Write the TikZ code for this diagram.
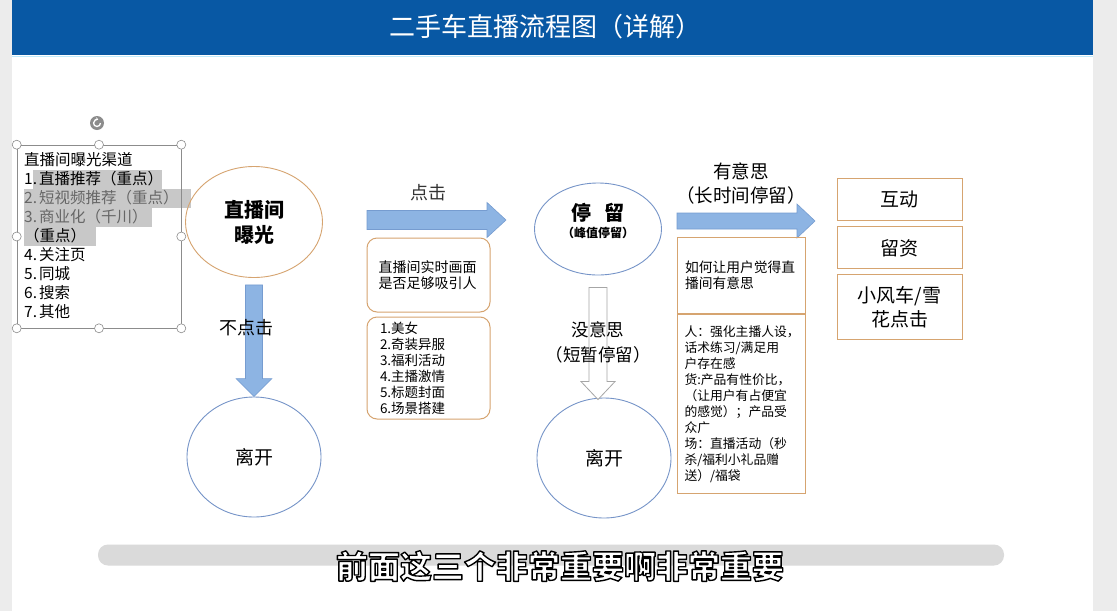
\documentclass[tikz,border=0pt]{standalone}
\usepackage{fontspec}
\setmainfont{Noto Sans CJK SC}
\usetikzlibrary{positioning, shapes.geometric, calc, arrows.meta}

\definecolor{hdrblue}{RGB}{8,88,164}
\definecolor{pagegray}{RGB}{236,236,236}
\definecolor{arrowblue}{RGB}{141,180,227}
\definecolor{arrowedge}{RGB}{118,156,208}
\definecolor{tanline}{RGB}{214,164,112}
\definecolor{ovalblue}{RGB}{118,148,200}
\definecolor{markgray}{RGB}{200,200,200}
\definecolor{bargray}{RGB}{218,218,218}

\begin{document}
\begin{tikzpicture}[x=1pt, y=-1pt]
		\tikzset{
			oval/.style={draw=ovalblue, ellipse, line width=0.9pt, align=center, inner sep=0pt},
			roundbox/.style={draw=tanline, rounded corners=10pt, line width=1pt, align=left, inner sep=0pt},
			tanbox/.style={draw=tanline, line width=0.9pt, align=center, inner sep=0pt, minimum width=125pt},
			fatarrow/.style={fill=arrowblue, draw=arrowedge, line width=0.6pt},
			hollowarrow/.style={fill=white, draw=black!35, line width=0.8pt},
			handle/.style={circle, draw=black!45, fill=white, minimum size=9pt, inner sep=0pt, line width=0.6pt},
			every node/.style={text=black}
		}
		\useasboundingbox (0,0) rectangle (1117,611);
		
		% Page and header
		\fill[pagegray] (0,0) rectangle (1117,611);
		\fill[white] (12,0) rectangle (1093,611);
		\fill[hdrblue] (12,0) rectangle (1093,55);
		\draw[cyan!25, line width=1pt] (12,56) -- (1093,56);
		\node[text=white, font=\fontsize{26}{30}\selectfont] (title) at (545,27) {二手车直播流程图（详解）};
		
		% Channel list (selected text box)
		\fill[markgray] (33,170) rectangle (162,189);
		\fill[markgray] (24,189) rectangle (191,208);
		\fill[markgray] (24,208) rectangle (152,227);
		\fill[markgray] (24,227) rectangle (96,246);
		\node[draw=black!45, line width=0.6pt, minimum width=164pt, minimum height=183pt, inner sep=0pt] (chanframe) at (99,236.5) {};
		\foreach \a [count=\i] in {north west, north, north east, east, south east, south, south west, west}
			\node[handle] (hd\i) at (chanframe.\a) {};
		\node[circle, fill=black!45, minimum size=14pt, inner sep=0pt] (rotate) at (97,123) {};
		\draw[white, line width=1.3pt, -{Stealth[length=2.5pt, width=3.5pt]}] ($(rotate.center)+(3.5,0)$) arc[start angle=0, end angle=290, radius=3.5];
		\foreach \txt [count=\i] in {直播间曝光渠道, 1.\kern2pt 直播推荐（重点）, {\color{black!60}2.\kern2pt 短视频推荐（重点）}, {\color{black!60}3.\kern2pt 商业化（千川）}, （重点）, 4.\kern2pt 关注页, 5.\kern2pt 同城, 6.\kern2pt 搜索, 7.\kern2pt 其他}
			\node[anchor=west, inner sep=0pt, font=\fontsize{15.5}{19}\selectfont] (ch\i) at (24,141+19*\i) {\txt};
		
		% Exposure and leaving
		\node[oval, draw=tanline, minimum width=137pt, minimum height=111pt, font=\fontsize{20}{25}\selectfont\bfseries] (expo) at (254,222) {直播间\\曝光};
		\node[oval, minimum width=134pt, minimum height=120pt, font=\fontsize{19}{23}\selectfont] (leave1) at (254,457) {离开};
		\draw[fatarrow] ($(expo.south)+(-8.5,7)$) -- ($(leave1.north)+(-8.5,-18)$) -- ($(leave1.north)+(-18,-18)$) -- (leave1.north) -- ($(leave1.north)+(18,-18)$) -- ($(leave1.north)+(8.5,-18)$) -- ($(expo.south)+(8.5,7)$) -- cycle;
		\node[font=\fontsize{18}{22}\selectfont] (noclick) at (246,328) {不点击};
		
		% Click arrow and hooks
		\coordinate (clickstart) at (367,220);
		\coordinate (clickend) at (506,220);
		\draw[fatarrow] ($(clickstart)+(0,-9.5)$) -- ($(clickend)+(-19,-9.5)$) -- ($(clickend)+(-19,-17.5)$) -- (clickend) -- ($(clickend)+(-19,17.5)$) -- ($(clickend)+(-19,9.5)$) -- ($(clickstart)+(0,9.5)$) -- cycle;
		\node[text=black!80, font=\fontsize{18}{22}\selectfont] (click) at (428,193) {点击};
		\node[roundbox, minimum width=123pt, minimum height=74pt, text width=100pt, font=\fontsize{14}{16}\selectfont] (attract) at (428.5,275) {直播间实时画面\\是否足够吸引人};
		\node[roundbox, minimum width=123pt, minimum height=102pt, text width=97pt, font=\fontsize{13.5}{16}\selectfont, below=4pt of attract] (hooks) {1.美女\\2.奇装异服\\3.福利活动\\4.主播激情\\5.标题封面\\6.场景搭建};
		
		% Stay
		\node[oval, minimum width=127pt, minimum height=92pt] (stay) at (598,229) {};
		\node[font=\fontsize{20}{24}\selectfont\bfseries] (staytitle) at ($(stay.center)+(0,-16)$) {停\hspace{13pt}留};
		\node[font=\fontsize{12}{14}\selectfont\bfseries] (staynote) at ($(stay.center)+(0,4)$) {（峰值停留）};
		\node[oval, minimum width=134pt, minimum height=120pt, font=\fontsize{19}{23}\selectfont] (leave2) at (604,458) {离开};
		\draw[hollowarrow] ($(stay.south)+(-9,12)$) -- ($(leave2.north)+(-15,-16)$) -- ($(leave2.north)+(-23,-16)$) -- ($(leave2.north)+(-6,2)$) -- ($(leave2.north)+(11,-16)$) -- ($(leave2.north)+(3,-16)$) -- ($(stay.south)+(9,12)$) -- cycle;
		\node[align=center, font=\fontsize{17.5}{25}\selectfont] (boring) at (598,342.5) {没意思\\（短暂停留）};
		
		% Interesting branch
		\coordinate (funstart) at (677,221);
		\coordinate (funend) at (815,221);
		\draw[fatarrow] ($(funstart)+(0,-8)$) -- ($(funend)+(-18,-8)$) -- ($(funend)+(-18,-17)$) -- (funend) -- ($(funend)+(-18,17)$) -- ($(funend)+(-18,8)$) -- ($(funstart)+(0,8)$) -- cycle;
		\node[align=center, font=\fontsize{18.5}{24}\selectfont] (funny) at (741,184) {有意思\\（长时间停留）};
		\node[draw=tanline, line width=0.9pt, align=left, inner sep=0pt, minimum width=128pt, minimum height=76pt, text width=112pt, font=\fontsize{13.75}{16}\selectfont] (fun) at (741,275) {如何让用户觉得直\\播间有意思};
		\node[draw=tanline, line width=0.9pt, align=left, inner sep=0pt, minimum width=128pt, minimum height=179pt, text width=113pt, font=\fontsize{12.8}{16}\selectfont, below=1pt of fun] (tips) {人：强化主播人设，\\话术练习/满足用\\户存在感\\货:产品有性价比，\\（让用户有占便宜\\的感觉）；产品受\\众广\\场：直播活动（秒\\杀/福利小礼品赠\\送）/福袋};
		
		% Actions
		\node[tanbox, minimum height=42pt, font=\fontsize{19}{24}\selectfont] (interact) at (899.5,199) {互动};
		\node[tanbox, minimum height=42pt, font=\fontsize{19}{24}\selectfont, below=6pt of interact] (leads) {留资};
		\node[tanbox, minimum height=65pt, font=\fontsize{19}{24}\selectfont, below=5pt of leads] (windmill) {小风车/雪\\花点击};
		
		% Subtitle bar
		\node[fill=bargray, rounded corners=10pt, minimum width=906pt, minimum height=21pt, inner sep=0pt] (capbar) at (551,555) {};
		\node[text=white, font=\fontsize{32}{36}\selectfont\bfseries] (caption) at ($(capbar.center)+(9,11)$) {\special{pdf:literal direct 0 0 0 RG 2 Tr 1.4 w 1 j}前面这三个非常重要啊非常重要\special{pdf:literal direct 0 Tr}};
		
	\end{tikzpicture}
\end{document}
